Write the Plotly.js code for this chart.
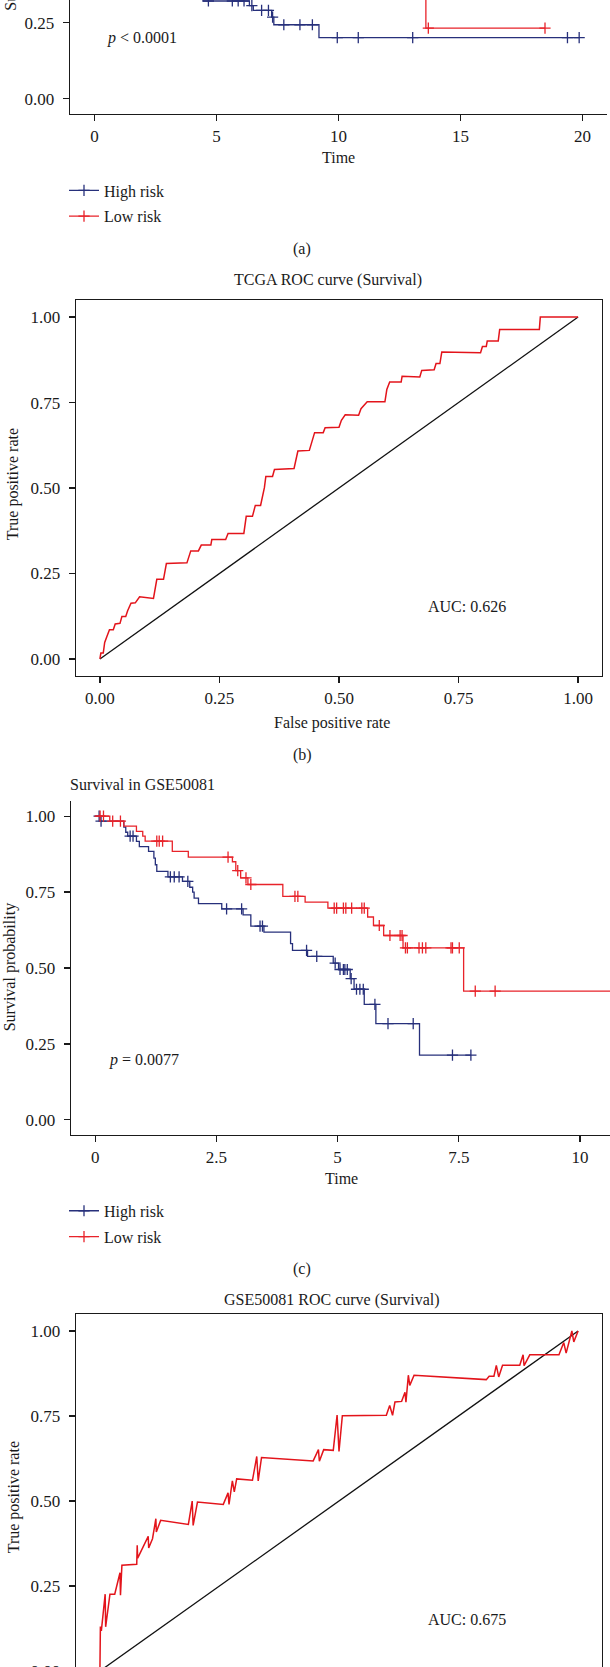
<!DOCTYPE html>
<html>
<head>
<meta charset="utf-8">
<script src="https://cdn.plot.ly/plotly-3.0.1.min.js"></script>
<style>
  html, body { margin: 0; padding: 0; background: #fff; }
  body { width: 610px; height: 1667px; overflow: hidden; position: relative; }
  .panel { position: absolute; left: 0; width: 610px; }
</style>
</head>
<body>
<div id="km-tcga" class="panel"></div>
<div id="roc-tcga" class="panel"></div>
<div id="km-gse" class="panel"></div>
<div id="roc-gse" class="panel"></div>
<script>
// ---- data ----
// TCGA survival (panel a), top of the panel is cropped in the figure
var tcgaHighTime = [0, 0.5, 1.0, 1.6, 2.2, 2.8, 3.3, 3.9, 4.45, 4.67,
                    5.65, 5.89, 6.13, 6.35, 6.45, 6.51, 6.85, 7.13, 7.26, 7.3,
                    7.35, 7.76, 8.42, 8.93, 9.2, 9.95, 10.81, 13.04, 19.38, 19.86];
var tcgaHighSurv = [1, 0.95, 0.89, 0.81, 0.72, 0.63, 0.54, 0.44, 0.321, 0.321,
                    0.321, 0.321, 0.321, 0.306, 0.306, 0.29, 0.29, 0.29, 0.268, 0.268,
                    0.243, 0.243, 0.243, 0.243, 0.201, 0.201, 0.201, 0.201, 0.201, 0.201];
var tcgaHighCens = [0, 0, 0, 0, 0, 0, 0, 0, 0, 1,
                    1, 1, 1, 0, 1, 0, 1, 1, 0, 1,
                    0, 1, 1, 1, 0, 1, 1, 1, 1, 1];

var tcgaLowTime = [0, 1.5, 3.0, 4.5, 6.0, 7.5, 9.0, 10.5, 12.0, 13.58, 13.68, 18.46];
var tcgaLowSurv = [1, 0.97, 0.93, 0.88, 0.82, 0.76, 0.69, 0.6, 0.46, 0.232, 0.232, 0.232];
var tcgaLowCens = [0, 0, 0, 0, 0, 0, 0, 0, 0, 0, 1, 1];

// TCGA ROC (panel b)
var tcgaFpr = [0, 0.002, 0.007, 0.010, 0.015, 0.020, 0.028, 0.032, 0.042, 0.046,
               0.054, 0.058, 0.065, 0.074, 0.083, 0.112, 0.119, 0.133, 0.139, 0.182,
               0.190, 0.206, 0.212, 0.232, 0.234, 0.263, 0.268, 0.301, 0.306, 0.319,
               0.325, 0.336, 0.344, 0.347, 0.361, 0.365, 0.406, 0.414, 0.438, 0.449,
               0.467, 0.471, 0.500, 0.505, 0.513, 0.541, 0.546, 0.559, 0.596, 0.600,
               0.606, 0.630, 0.632, 0.669, 0.673, 0.699, 0.703, 0.711, 0.715, 0.796,
               0.800, 0.808, 0.810, 0.833, 0.836, 0.919, 0.921, 1.0];
var tcgaTpr = [0, 0.017, 0.017, 0.048, 0.067, 0.085, 0.085, 0.102, 0.104, 0.124,
               0.124, 0.141, 0.163, 0.164, 0.182, 0.177, 0.233, 0.233, 0.279, 0.281,
               0.316, 0.316, 0.333, 0.333, 0.349, 0.349, 0.367, 0.367, 0.417, 0.417,
               0.449, 0.449, 0.501, 0.534, 0.534, 0.554, 0.557, 0.608, 0.610, 0.662,
               0.662, 0.676, 0.678, 0.698, 0.714, 0.713, 0.732, 0.752, 0.752, 0.788,
               0.810, 0.810, 0.827, 0.825, 0.844, 0.846, 0.864, 0.864, 0.898, 0.896,
               0.914, 0.914, 0.930, 0.930, 0.964, 0.964, 1.0, 1.0];
var tcgaAuc = 'AUC: 0.626';

// GSE50081 survival (panel c)
var gseHighTime = [0, 0.08, 0.1, 0.12, 0.59, 0.63, 0.67, 0.72, 0.78, 0.85,
                   0.91, 1.1, 1.21, 1.24, 1.27, 1.5, 1.55, 1.63, 1.73, 1.8,
                   1.91, 1.95, 2.01, 2.04, 2.13, 2.61, 2.71, 3.02, 3.05, 3.21,
                   3.4, 3.45, 3.48, 4.03, 4.07, 4.36, 4.38, 4.57, 4.91, 4.95,
                   5.02, 5.05, 5.12, 5.15, 5.2, 5.26, 5.28, 5.34, 5.39, 5.46,
                   5.53, 5.55, 5.77, 5.79, 6.04, 6.56, 6.69, 7.37, 7.75];
var gseHighSurv = [1, 1, 0.984, 0.984, 0.964, 0.947, 0.934, 0.934, 0.934, 0.917,
                   0.9, 0.884, 0.862, 0.84, 0.818, 0.8, 0.8, 0.8, 0.8, 0.785,
                   0.785, 0.766, 0.75, 0.73, 0.712, 0.695, 0.695, 0.695, 0.675, 0.638,
                   0.638, 0.638, 0.618, 0.58, 0.558, 0.558, 0.538, 0.538, 0.516, 0.516,
                   0.495, 0.495, 0.495, 0.495, 0.495, 0.465, 0.465, 0.43, 0.43, 0.43,
                   0.43, 0.38, 0.38, 0.317, 0.317, 0.317, 0.213, 0.213, 0.213];
var gseHighCens = [0, 1, 0, 1, 0, 0, 0, 1, 1, 0,
                   0, 0, 0, 0, 0, 0, 1, 1, 1, 0,
                   1, 0, 0, 0, 0, 0, 1, 1, 0, 0,
                   1, 1, 0, 0, 0, 1, 0, 1, 0, 1,
                   0, 1, 1, 1, 1, 0, 1, 0, 1, 1,
                   1, 0, 1, 0, 1, 1, 0, 1, 1];

var gseLowTime = [0, 0.1, 0.17, 0.3, 0.36, 0.52, 0.59, 0.85, 0.98, 1.03,
                  1.27, 1.32, 1.39, 1.59, 1.92, 2.74, 2.83, 2.9, 2.94, 3.0,
                  3.11, 3.15, 3.21, 3.87, 4.12, 4.18, 4.33, 4.8, 4.93, 4.98,
                  5.12, 5.17, 5.29, 5.5, 5.55, 5.62, 5.74, 5.86, 5.95, 6.08,
                  6.29, 6.33, 6.35, 6.4, 6.44, 6.68, 6.75, 6.82, 7.34, 7.37,
                  7.51, 7.6, 7.84, 8.25, 11.0];
var gseLowSurv = [1, 1, 1, 0.984, 0.984, 0.984, 0.967, 0.95, 0.934, 0.918,
                  0.918, 0.918, 0.918, 0.884, 0.865, 0.865, 0.85, 0.821, 0.821, 0.797,
                  0.797, 0.775, 0.775, 0.736, 0.736, 0.736, 0.717, 0.697, 0.697, 0.697,
                  0.697, 0.697, 0.697, 0.697, 0.697, 0.668, 0.64, 0.64, 0.607, 0.607,
                  0.607, 0.607, 0.566, 0.566, 0.566, 0.566, 0.566, 0.566, 0.566, 0.566,
                  0.566, 0.424, 0.424, 0.424, 0.424];
var gseLowCens = [0, 1, 1, 0, 1, 1, 0, 0, 0, 0,
                  1, 1, 1, 0, 0, 1, 0, 0, 1, 0,
                  1, 0, 1, 0, 1, 1, 0, 0, 1, 1,
                  1, 1, 1, 1, 1, 0, 0, 1, 0, 1,
                  1, 1, 0, 1, 1, 1, 1, 1, 1, 1,
                  1, 0, 1, 1, 0];

// GSE50081 ROC (panel d)
var gseFpr = [0, 0.001, 0.003, 0.011, 0.012, 0.021, 0.031, 0.042, 0.043, 0.046,
              0.077, 0.078, 0.079, 0.101, 0.102, 0.110, 0.117, 0.118, 0.127, 0.185,
              0.193, 0.195, 0.204, 0.258, 0.268, 0.270, 0.277, 0.281, 0.286, 0.319,
              0.328, 0.331, 0.338, 0.446, 0.457, 0.459, 0.468, 0.488, 0.496, 0.500,
              0.507, 0.544, 0.599, 0.606, 0.612, 0.617, 0.631, 0.638, 0.640, 0.645,
              0.648, 0.657, 0.808, 0.814, 0.824, 0.829, 0.834, 0.842, 0.878, 0.885,
              0.887, 0.899, 0.960, 0.970, 0.975, 0.987, 0.991, 1.0];
var gseTpr = [0, 0.131, 0.118, 0.226, 0.130, 0.226, 0.226, 0.289, 0.223, 0.311,
              0.314, 0.370, 0.332, 0.396, 0.362, 0.389, 0.448, 0.409, 0.443, 0.431,
              0.500, 0.428, 0.497, 0.490, 0.524, 0.490, 0.559, 0.527, 0.565, 0.561,
              0.631, 0.559, 0.628, 0.618, 0.651, 0.617, 0.651, 0.649, 0.753, 0.646,
              0.751, 0.752, 0.752, 0.781, 0.752, 0.791, 0.793, 0.820, 0.791, 0.870,
              0.840, 0.870, 0.857, 0.867, 0.867, 0.899, 0.865, 0.899, 0.899, 0.930,
              0.898, 0.930, 0.930, 0.966, 0.935, 1.0, 0.968, 1.0];
var gseAuc = 'AUC: 0.675';

var chanceLine = [0, 1];
var probTicks = [0, 0.25, 0.5, 0.75, 1];
var probLabels = ['0.00', '0.25', '0.50', '0.75', '1.00'];
var tcgaTimeTicks = [0, 5, 10, 15, 20];
var gseTimeTicks = [0, 2.5, 5, 7.5, 10];
var gseTimeLabels = ['0', '2.5', '5', '7.5', '10'];

// ---- style ----
var W = 610;
var FONT = '"Liberation Serif", "Times New Roman", serif';
var INK = '#1a1a1a';
var BLUE = '#27307b';
var RED = '#e8232a';

// panel geometry in page pixels
var gA = {top: -260, height: 520, t: 39, h: 335.5, l: 70, r: 3};
var gB = {top: 260, height: 520, t: 39.5, h: 376.5, l: 76, r: 8};
var gC = {top: 760, height: 530, t: 40.5, h: 334.4, l: 71, r: 0};
var gD = {top: 1280, height: 430, t: 33.7, h: 374, l: 76, r: 8};

function px(g, x) { return (x - g.l) / (W - g.l - g.r); }
function py(g, y) { return (g.top + g.t + g.h - y) / g.h; }

function note(g, text, x, y, opts) {
  var a = {text: text, xref: 'paper', yref: 'paper', x: px(g, x), y: py(g, y),
           xanchor: 'center', yanchor: 'middle', showarrow: false,
           font: {family: FONT, size: 16, color: INK}};
  for (var k in opts) a[k] = opts[k];
  return a;
}

function axis(range, vals, text, mirror, standoff) {
  return {
    range: range, tickvals: vals, ticktext: text,
    showline: true, linecolor: INK, linewidth: 1.3, mirror: mirror,
    ticks: 'outside', ticklen: 6, tickwidth: 1.2, tickcolor: INK,
    ticklabelstandoff: standoff || 0,
    showgrid: false, zeroline: false, fixedrange: true,
    tickfont: {family: FONT, size: 17, color: INK}
  };
}

function baseLayout(g) {
  return {
    width: W, height: g.height,
    margin: {t: g.t, b: g.height - g.t - g.h, l: g.l, r: g.r, pad: 0},
    paper_bgcolor: 'rgba(0,0,0,0)', plot_bgcolor: 'rgba(0,0,0,0)',
    font: {family: FONT, size: 16, color: INK},
    showlegend: false
  };
}

function kmTraces(time, surv, cens, name, color) {
  var cx = [], cy = [];
  for (var i = 0; i < time.length; i++) {
    if (cens[i]) { cx.push(time[i], null); cy.push(surv[i], null); }
  }
  return [
    {x: time, y: surv, type: 'scatter', mode: 'lines', showlegend: false,
     line: {shape: 'hv', color: color, width: 1.3}, hoverinfo: 'skip'},
    {x: cx, y: cy, type: 'scatter', mode: 'lines+markers', name: name, legendgroup: name,
     connectgaps: false, line: {color: color, width: 1.3},
     marker: {symbol: 'cross-thin', size: 8, color: color, line: {color: color, width: 1.3}}}
  ];
}

function kmLegend(g, top) {
  return {x: px(g, 64), y: py(g, top), xanchor: 'left', yanchor: 'top',
          bgcolor: 'rgba(0,0,0,0)', tracegroupgap: 2,
          font: {family: FONT, size: 16, color: INK}};
}

var cfg = {staticPlot: true, displayModeBar: false};

// ---- (a) TCGA Kaplan-Meier ----
var layA = baseLayout(gA);
layA.xaxis = axis([-1, 21], tcgaTimeTicks, null, false);
layA.yaxis = axis([-0.05, 1.05], probTicks, probLabels, false, 5);
layA.showlegend = true;
layA.legend = kmLegend(gA, 174);
layA.annotations = [
  {text: '<i>p</i> &lt; 0.0001', xref: 'x', yref: 'y', x: 0.44, y: 0.2, xanchor: 'left',
   yanchor: 'middle', showarrow: false, font: {family: FONT, size: 16, color: INK}},
  note(gA, 'Time', 338, 157.7),
  note(gA, 'Survival probability', 11, -53, {textangle: -90}),
  note(gA, '(a)', 302, 250)
];
document.getElementById('km-tcga').style.top = gA.top + 'px';
Plotly.newPlot('km-tcga',
  kmTraces(tcgaHighTime, tcgaHighSurv, tcgaHighCens, 'High risk', BLUE)
    .concat(kmTraces(tcgaLowTime, tcgaLowSurv, tcgaLowCens, 'Low risk', RED)),
  layA, cfg);

// ---- (b) TCGA ROC ----
function rocTraces(fpr, tpr) {
  return [
    {x: chanceLine, y: chanceLine, type: 'scatter', mode: 'lines',
     line: {color: '#111', width: 1.3}, hoverinfo: 'skip'},
    {x: fpr, y: tpr, type: 'scatter', mode: 'lines',
     line: {color: '#e3141b', width: 1.5}, hoverinfo: 'skip'}
  ];
}
var rocTicks = [0, 0.25, 0.5, 0.75, 1];

var layB = baseLayout(gB);
layB.xaxis = axis([-0.05, 1.05], rocTicks, probLabels, true);
layB.yaxis = axis([-0.05, 1.05], rocTicks, probLabels, true, 5);
layB.annotations = [
  note(gB, 'TCGA ROC curve (Survival)', 328, 279),
  {text: tcgaAuc, xref: 'x', yref: 'y', x: 0.767, y: 0.152, xanchor: 'center',
   yanchor: 'middle', showarrow: false, font: {family: FONT, size: 16, color: INK}},
  note(gB, 'False positive rate', 332, 722.7),
  note(gB, 'True positive rate', 13, 484, {textangle: -90}),
  note(gB, '(b)', 302, 755)
];
document.getElementById('roc-tcga').style.top = gB.top + 'px';
Plotly.newPlot('roc-tcga', rocTraces(tcgaFpr, tcgaTpr), layB, cfg);

// ---- (c) GSE50081 Kaplan-Meier ----
var layC = baseLayout(gC);
layC.xaxis = axis([-0.5, 10.62], gseTimeTicks, gseTimeLabels, false);
layC.yaxis = axis([-0.05, 1.05], probTicks, probLabels, false, 5);
layC.showlegend = true;
layC.legend = kmLegend(gC, 1193.8);
layC.annotations = [
  note(gC, 'Survival in GSE50081', 68, 784, {xanchor: 'left'}),
  {text: '<i>p</i> = 0.0077', xref: 'x', yref: 'y', x: 0.235, y: 0.196, xanchor: 'left',
   yanchor: 'middle', showarrow: false, font: {family: FONT, size: 16, color: INK}},
  note(gC, 'Time', 341, 1178.3),
  note(gC, 'Survival probability', 10, 967, {textangle: -90}),
  note(gC, '(c)', 302, 1269.3)
];
document.getElementById('km-gse').style.top = gC.top + 'px';
Plotly.newPlot('km-gse',
  kmTraces(gseHighTime, gseHighSurv, gseHighCens, 'High risk', BLUE)
    .concat(kmTraces(gseLowTime, gseLowSurv, gseLowCens, 'Low risk', RED)),
  layC, cfg);

// ---- (d) GSE50081 ROC ----
var layD = baseLayout(gD);
layD.xaxis = axis([-0.05, 1.05], rocTicks, probLabels, true);
layD.yaxis = axis([-0.05, 1.05], rocTicks, probLabels, true, 5);
layD.annotations = [
  note(gD, 'GSE50081 ROC curve (Survival)', 332, 1299.3),
  {text: gseAuc, xref: 'x', yref: 'y', x: 0.767, y: 0.152, xanchor: 'center',
   yanchor: 'middle', showarrow: false, font: {family: FONT, size: 16, color: INK}},
  note(gD, 'True positive rate', 14, 1497, {textangle: -90})
];
document.getElementById('roc-gse').style.top = gD.top + 'px';
Plotly.newPlot('roc-gse', rocTraces(gseFpr, gseTpr), layD, cfg);
</script>
</body>
</html>
